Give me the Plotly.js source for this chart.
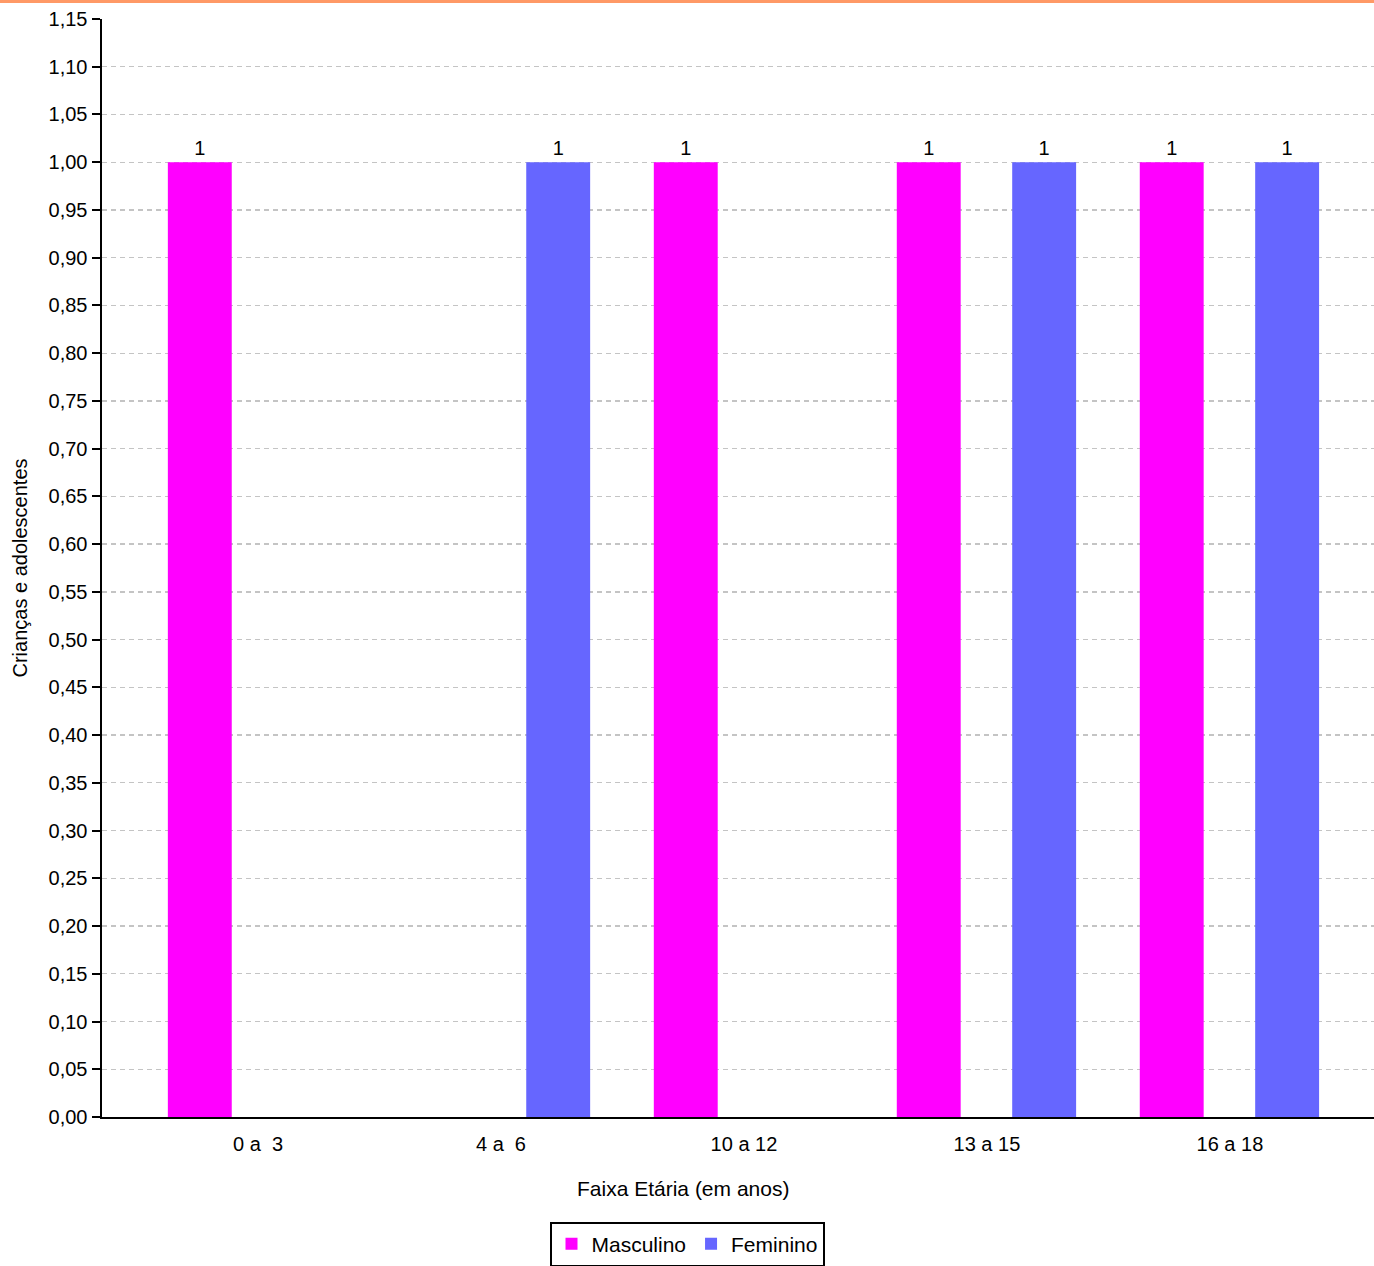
<!DOCTYPE html>
<html>
<head>
<meta charset="utf-8">
<script src="https://cdn.plot.ly/plotly-3.0.1.min.js"></script>
<style>html,body{margin:0;padding:0;background:#fff;}#chart{width:1374px;height:1266px;}</style>
</head>
<body>
<div id="chart"></div>
<script>
const categories = ['0 a  3', '4 a  6', '10 a 12', '13 a 15', '16 a 18'];
const masculino = [1, 0, 1, 1, 1];
const feminino = [0, 1, 0, 1, 1];
const seriesNames = ['Masculino', 'Feminino'];
const seriesColors = ['#FF00FF', '#6666FF'];
const xTitle = 'Faixa Etária (em anos)';
const yTitle = 'Crianças e adolescentes';

const FONT = 'Liberation Sans, Arial, sans-serif';
const lab = v => v ? String(v) : '';

function mkTrace(vals, i, offset) {
  return {
    type: 'bar', x: categories, y: vals, name: seriesNames[i],
    marker: {color: seriesColors[i]},
    width: 0.263, offset: offset,
    text: vals.map(lab), textposition: 'outside', cliponaxis: false,
    textfont: {family: FONT, size: 20, color: '#000'},
    hoverinfo: 'x+y+name'
  };
}

const data = [mkTrace(masculino, 0, -0.371), mkTrace(feminino, 1, 0.104)];

const layout = {
  width: 1374, height: 1266,
  margin: {l: 102, r: 0, t: 19, b: 149},
  paper_bgcolor: '#fff', plot_bgcolor: '#fff',
  separators: ',.',
  font: {family: FONT, size: 20, color: '#000'},
  showlegend: true,
  barmode: 'overlay',
  xaxis: {
    type: 'category', range: [-0.642, 4.593],
    showgrid: false, zeroline: false,
    showline: true, linecolor: '#000', linewidth: 2,
    ticks: 'outside', ticklen: 8, tickcolor: 'rgba(0,0,0,0)',
    tickfont: {family: FONT, size: 20, color: '#000'},
    fixedrange: true
  },
  yaxis: {
    range: [0, 1.15], dtick: 0.05, tick0: 0, tickformat: '.2f',
    showgrid: true, gridcolor: '#c4c4c4', griddash: '5px,4px', gridwidth: 1.3,
    zeroline: false,
    showline: true, linecolor: '#000', linewidth: 2.5,
    ticks: 'outside', ticklen: 8, tickwidth: 2, tickcolor: '#000',
    tickfont: {family: FONT, size: 20, color: '#000'},
    title: {text: yTitle, font: {family: FONT, size: 20, color: '#000'}, standoff: 16},
    automargin: false
  },
  legend: {
    orientation: 'h', xref: 'container', x: 0.5, xanchor: 'center',
    yref: 'container', y: 0.035, yanchor: 'top',
    bordercolor: '#000', borderwidth: 2, bgcolor: '#fff',
    font: {family: FONT, size: 21, color: '#000'}
  },
  annotations: [{
    text: xTitle, xref: 'paper', yref: 'paper', x: 0.4568, y: -0.065,
    xanchor: 'center', yanchor: 'middle', showarrow: false,
    font: {family: FONT, size: 21, color: '#000'}
  }],
  shapes: [{
    type: 'rect', xref: 'paper', yref: 'paper',
    x0: -0.0802, x1: 1, y0: 1.0146, y1: 1.0175,
    fillcolor: '#FF9966', line: {width: 0}, layer: 'above'
  }]
};

Plotly.newPlot('chart', data, layout, {displayModeBar: false, staticPlot: true});
</script>
</body>
</html>
